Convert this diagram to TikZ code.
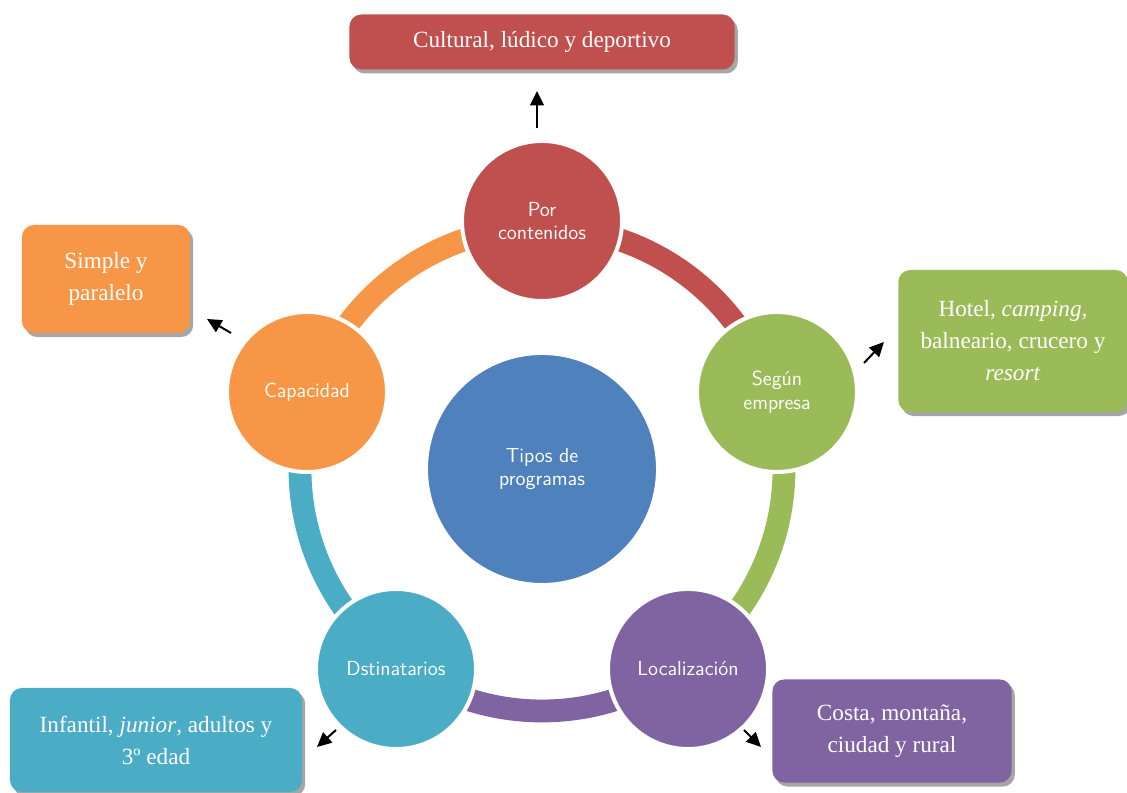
\documentclass[tikz,border=0pt]{standalone}
\usepackage{fontspec}
\setmainfont{Liberation Serif}
\usetikzlibrary{shadows,arrows.meta}

\definecolor{rojo}{RGB}{192,80,77}
\definecolor{verde}{RGB}{155,187,89}
\definecolor{lila}{RGB}{128,100,162}
\definecolor{turq}{RGB}{75,172,198}
\definecolor{naranja}{RGB}{247,150,70}
\definecolor{azul}{RGB}{79,129,189}

\begin{document}
\begin{tikzpicture}[
      x=0.025cm, y=0.025cm,
      kreis/.style={
        circle,
        draw=white,
        line width=0.1cm,
        minimum size=4cm,
        text=white,
        align=center,
        font=\sffamily\fontsize{14.5}{17}\selectfont
      },
      kasten/.style={
        rectangle,
        rounded corners=0.3cm,
        text=white,
        align=center,
        font=\fontsize{16.5}{22.8}\selectfont,
        drop shadow={shadow xshift=0.08cm, shadow yshift=-0.1cm, fill=black, opacity=0.35}
      },
      band/.style={line width=0.57cm},
      pfeil/.style={-{Triangle[length=0.36cm,width=0.34cm]}, line width=0.05cm}
    ]
      \useasboundingbox (0,0) rectangle (1127,793);

      % Ring
      \foreach \a/\farbe in {90/rojo, 18/verde, -54/lila, -126/turq, 162/naranja}
      { \draw [band, \farbe] (542,324) ++(\a:242) arc[start angle=\a, end angle=\a-72, radius=242];
      }

      % Kreise
      \node [kreis, fill=azul, minimum size=5.8cm] (tipos) at (542,324) {Tipos de\\programas};
      \node [kreis, fill=rojo] (cont) at (542,572) {Por\\contenidos};
      \node [kreis, fill=verde] (emp) at (777,401) {Según\\empresa};
      \node [kreis, fill=lila] (loc) at (688,124) {Localización};
      \node [kreis, fill=turq] (dest) at (396,124) {Dstinatarios};
      \node [kreis, fill=naranja] (cap) at (307,401) {Capacidad};

      % Kaesten
      \node [kasten, fill=rojo, minimum width=9.625cm, minimum height=1.375cm] (kcont) at (542,751) {Cultural, lúdico y deportivo};
      \node [kasten, fill=naranja, minimum width=4.2cm, minimum height=2.7cm] (kcap) at (106,514) {Simple y\\paralelo};
      \node [kasten, fill=verde, minimum width=5.73cm, minimum height=3.55cm] (kemp) at (1013,452) {Hotel, \textit{camping},\\balneario, crucero y\\\textit{resort}};
      \node [kasten, fill=turq, minimum width=7.3cm, minimum height=2.6cm] (kdest) at (156,53) {Infantil, \textit{junior}, adultos y\\3º edad};
      \node [kasten, fill=lila, minimum width=5.98cm, minimum height=2.58cm] (kloc) at (892,62) {Costa, montaña,\\ciudad y rural};

      % Pfeile
      \coordinate (p1) at (537,665);  \coordinate (q1) at (537,702);
      \coordinate (p2) at (231,460);  \coordinate (q2) at (207,474);
      \coordinate (p3) at (864,430);  \coordinate (q3) at (884,451);
      \coordinate (p4) at (336,63);   \coordinate (q4) at (317,46);
      \coordinate (p5) at (744,63);   \coordinate (q5) at (761,46);
      \foreach \i in {1,...,5}
      { \draw [pfeil] (p\i) -- (q\i);
      }
    \end{tikzpicture}
\end{document}
